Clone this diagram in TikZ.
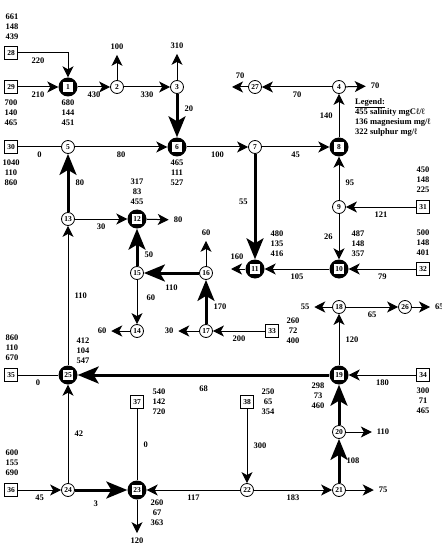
\documentclass[tikz,border=0pt]{standalone}
\usepackage{fontspec}
\setmainfont{Liberation Serif}
\usetikzlibrary{arrows.meta}
\newcommand\nfont{\fontsize{8.5bp}{10bp}\selectfont\bfseries}
\newcommand\idfont{\fontsize{7.5bp}{8bp}\selectfont\bfseries}
\tikzset{
  junc/.style={draw,circle,line width=.8bp,minimum size=13bp,inner sep=0pt,font=\idfont,fill=white},
  src/.style={draw,rectangle,line width=.8bp,minimum size=13bp,inner sep=1bp,font=\idfont},
  hub/.style={circle,fill=black,minimum size=19bp,inner sep=0pt,font=\idfont,
    path picture={\fill[white] ([shift={(-4.6bp,-4.6bp)}]path picture bounding box.center)
      rectangle ([shift={(4.6bp,4.6bp)}]path picture bounding box.center);}},
  flow/.style={-{Stealth[length=11bp,width=11bp,inset=3bp]},line width=1bp},
  bigflow/.style={-{Stealth[length=21bp,width=17bp,inset=5bp]},line width=3bp},
  pipe/.style={line width=1bp},
  wl/.style={font=\nfont,inner sep=1bp},
  hl/.style={wl,midway,below=3bp},
  vl/.style={wl,midway,right=5bp},
  vlleft/.style={wl,midway,left=5bp},
  sink/.style={font=\nfont,inner sep=0pt,outer sep=5bp},
  triple/.style={font=\nfont,align=center,inner sep=0pt},
}
\begin{document}
\begin{tikzpicture}[x=1bp,y=-1bp]
  \useasboundingbox (0,0) rectangle (442,548);
  % junctions and sources
  \node[src] (n28) at (11,53) {28};
  \node[src] (n29) at (11,87) {29};
  \node[hub] (n1) at (68,87) {1};
  \node[junc] (n2) at (117,87) {2};
  \node[junc] (n3) at (177,87) {3};
  \node[junc] (n27) at (255,87) {27};
  \node[junc] (n4) at (339,87) {4};
  \node[src] (n30) at (11,147) {30};
  \node[junc] (n5) at (68,147) {5};
  \node[hub] (n6) at (177,147) {6};
  \node[junc] (n7) at (255,147) {7};
  \node[hub] (n8) at (339,147) {8};
  \node[junc] (n9) at (339,207) {9};
  \node[src] (n31) at (423,207) {31};
  \node[junc] (n13) at (68,219) {13};
  \node[hub] (n12) at (137,219) {12};
  \node[hub] (n11) at (255,269) {11};
  \node[hub] (n10) at (339,269) {10};
  \node[src] (n32) at (423,269) {32};
  \node[junc] (n15) at (137,273) {15};
  \node[junc] (n16) at (206,273) {16};
  \node[junc] (n18) at (339,307) {18};
  \node[junc] (n26) at (405,307) {26};
  \node[junc] (n14) at (137,331) {14};
  \node[junc] (n17) at (206,331) {17};
  \node[src] (n33) at (272,331) {33};
  \node[src] (n35) at (11,375) {35};
  \node[hub] (n25) at (68,375) {25};
  \node[hub] (n19) at (339,375) {19};
  \node[src] (n34) at (423,375) {34};
  \node[src] (n37) at (137,402) {37};
  \node[src] (n38) at (247,402) {38};
  \node[junc] (n20) at (339,432) {20};
  \node[src] (n36) at (11,490) {36};
  \node[junc] (n24) at (68,490) {24};
  \node[hub] (n23) at (137,490) {23};
  \node[junc] (n22) at (247,490) {22};
  \node[junc] (n21) at (339,490) {21};
  % outflows
  \node[sink] (x2) at (117,47) {100};
  \node[sink] (x3) at (177,46) {310};
  \coordinate (x27) at (232,87);
  \node[wl] (t27) at (240,76) {70};
  \node[sink] (x4) at (375,86) {70};
  \node[sink] (x12) at (178,220) {80};
  \coordinate (x11) at (231,269);
  \node[wl] (t11) at (237,257) {160};
  \node[sink] (x16) at (206,233) {60};
  \node[sink] (x14) at (102,331) {60};
  \node[sink] (x17) at (169,331) {30};
  \node[sink] (x18) at (305,307) {55};
  \node[sink,anchor=west] (x26) at (430,307) {65};
  \node[sink] (x20) at (383,432) {110};
  \node[sink] (x21) at (383,490) {75};
  \node[sink] (x23) at (137,541) {120};
  % concentrations
  \node[triple] (d28) at (12,27) {661\\148\\439};
  \node[triple] (d29) at (11,113) {700\\140\\465};
  \node[triple] (d1) at (68,113) {680\\144\\451};
  \node[triple] (d30) at (11,173) {1040\\110\\860};
  \node[triple] (d6) at (177,173) {465\\111\\527};
  \node[triple] (d12) at (137,192) {317\\83\\455};
  \node[triple] (d31) at (423,180) {450\\148\\225};
  \node[triple] (d10) at (358,244) {487\\148\\357};
  \node[triple] (d32) at (423,243) {500\\148\\401};
  \node[triple] (d11) at (277,244) {480\\135\\416};
  \node[triple] (d35) at (12,348) {860\\110\\670};
  \node[triple] (d25) at (83,351) {412\\104\\547};
  \node[triple] (d33) at (293,331) {260\\72\\400};
  \node[triple] (d37) at (159,402) {540\\142\\720};
  \node[triple] (d38) at (268,402) {250\\65\\354};
  \node[triple] (d19) at (318,396) {298\\73\\460};
  \node[triple] (d34) at (423,401) {300\\71\\465};
  \node[triple] (d36) at (12,463) {600\\155\\690};
  \node[triple] (d23) at (157,513) {260\\67\\363};
  \node[font=\nfont,align=left,anchor=north west,inner sep=0pt] (legend) at (355,98)
    {\underline{Legend:}\\455 salinity mgCℓ/ℓ\\136 magnesium mg/ℓ\\322 sulphur mg/ℓ};
  % pipes
  \draw[flow] (n28.east) -| (n1.north) node[hl,pos=.2] (L1) {220};
  \draw[flow] (n29) -- (n1) node[hl] (L2) {210};
  \draw[flow] (n1) -- (n2) node[hl] (L3) {430};
  \draw[flow] (n2) -- (n3) node[hl] (L4) {330};
  \draw[flow] (n2) -- (x2);
  \draw[flow] (n3) -- (x3);
  \draw[bigflow] (n3) -- (n6) node[vl,pos=.35] (L5) {20};
  \draw[flow] (n4) -- (n27) node[hl] (L6) {70};
  \draw[flow] (n27) -- (x27);
  \draw[flow] (n4) -- (x4);
  \draw[flow] (n8) -- (n4) node[vlleft] (L7) {140};
  \draw[pipe] (n30) -- (n5) node[hl] (L8) {0};
  \draw[flow] (n5) -- (n6) node[hl] (L9) {80};
  \draw[flow] (n6) -- (n7) node[hl] (L10) {100};
  \draw[flow] (n7) -- (n8) node[hl] (L11) {45};
  \draw[flow] (n9) -- (n8) node[vl,pos=.4] (L12) {95};
  \draw[flow] (n31) -- (n9) node[hl] (L13) {121};
  \draw[flow] (n9) -- (n10) node[vlleft] (L14) {26};
  \draw[flow] (n32) -- (n10) node[hl] (L15) {79};
  \draw[flow] (n10) -- (n11) node[hl] (L16) {105};
  \draw[bigflow] (n7) -- (n11) node[vlleft,pos=.45] (L17) {55};
  \draw[flow] (n11) -- (x11);
  \draw[bigflow] (n13) -- (n5) node[vl] (L18) {80};
  \draw[flow] (n13) -- (n12) node[hl] (L19) {30};
  \draw[flow] (n12) -- (x12);
  \draw[bigflow] (n15) -- (n12) node[vl,pos=.3] (L20) {50};
  \draw[bigflow] (n16) -- (n15) node[hl,below=6bp] (L21) {110};
  \draw[flow] (n16) -- (x16);
  \draw[flow] (n15) -- (n14) node[vl,right=3bp,pos=.4] (L22) {60};
  \draw[flow] (n14) -- (x14);
  \draw[bigflow] (n17) -- (n16) node[vl,pos=.4] (L23) {170};
  \draw[flow] (n17) -- (x17);
  \draw[flow] (n33) -- (n17) node[hl] (L24) {200};
  \draw[flow] (n25) -- (n13) node[vl] (L25) {110};
  \draw[pipe] (n35) -- (n25) node[hl] (L26) {0};
  \draw[bigflow] (n19) -- (n25) node[hl,below=5bp] (L27) {68};
  \draw[flow] (n34) -- (n19) node[hl] (L28) {180};
  \draw[flow] (n19) -- (n18) node[vl] (L29) {120};
  \draw[flow] (n18) -- (x18);
  \draw[flow] (n18) -- (n26) node[hl] (L30) {65};
  \draw[flow] (n26) -- (x26);
  \draw[bigflow] (n20) -- (n19);
  \draw[flow] (n20) -- (x20);
  \draw[bigflow] (n21) -- (n20) node[vl] (L31) {108};
  \draw[flow] (n21) -- (x21);
  \draw[flow] (n22) -- (n21) node[hl] (L32) {183};
  \draw[flow] (n22) -- (n23) node[hl] (L33) {117};
  \draw[flow] (n38) -- (n22) node[vl] (L34) {300};
  \draw[pipe] (n37) -- (n23) node[vl] (L35) {0};
  \draw[flow] (n24) -- (n25) node[vl] (L36) {42};
  \draw[flow] (n36) -- (n24) node[hl] (L37) {45};
  \draw[bigflow] (n24) -- (n23) node[hl,below=5bp,pos=.4] (L38) {3};
  \draw[flow] (n23) -- (x23);
\end{tikzpicture}
\end{document}
